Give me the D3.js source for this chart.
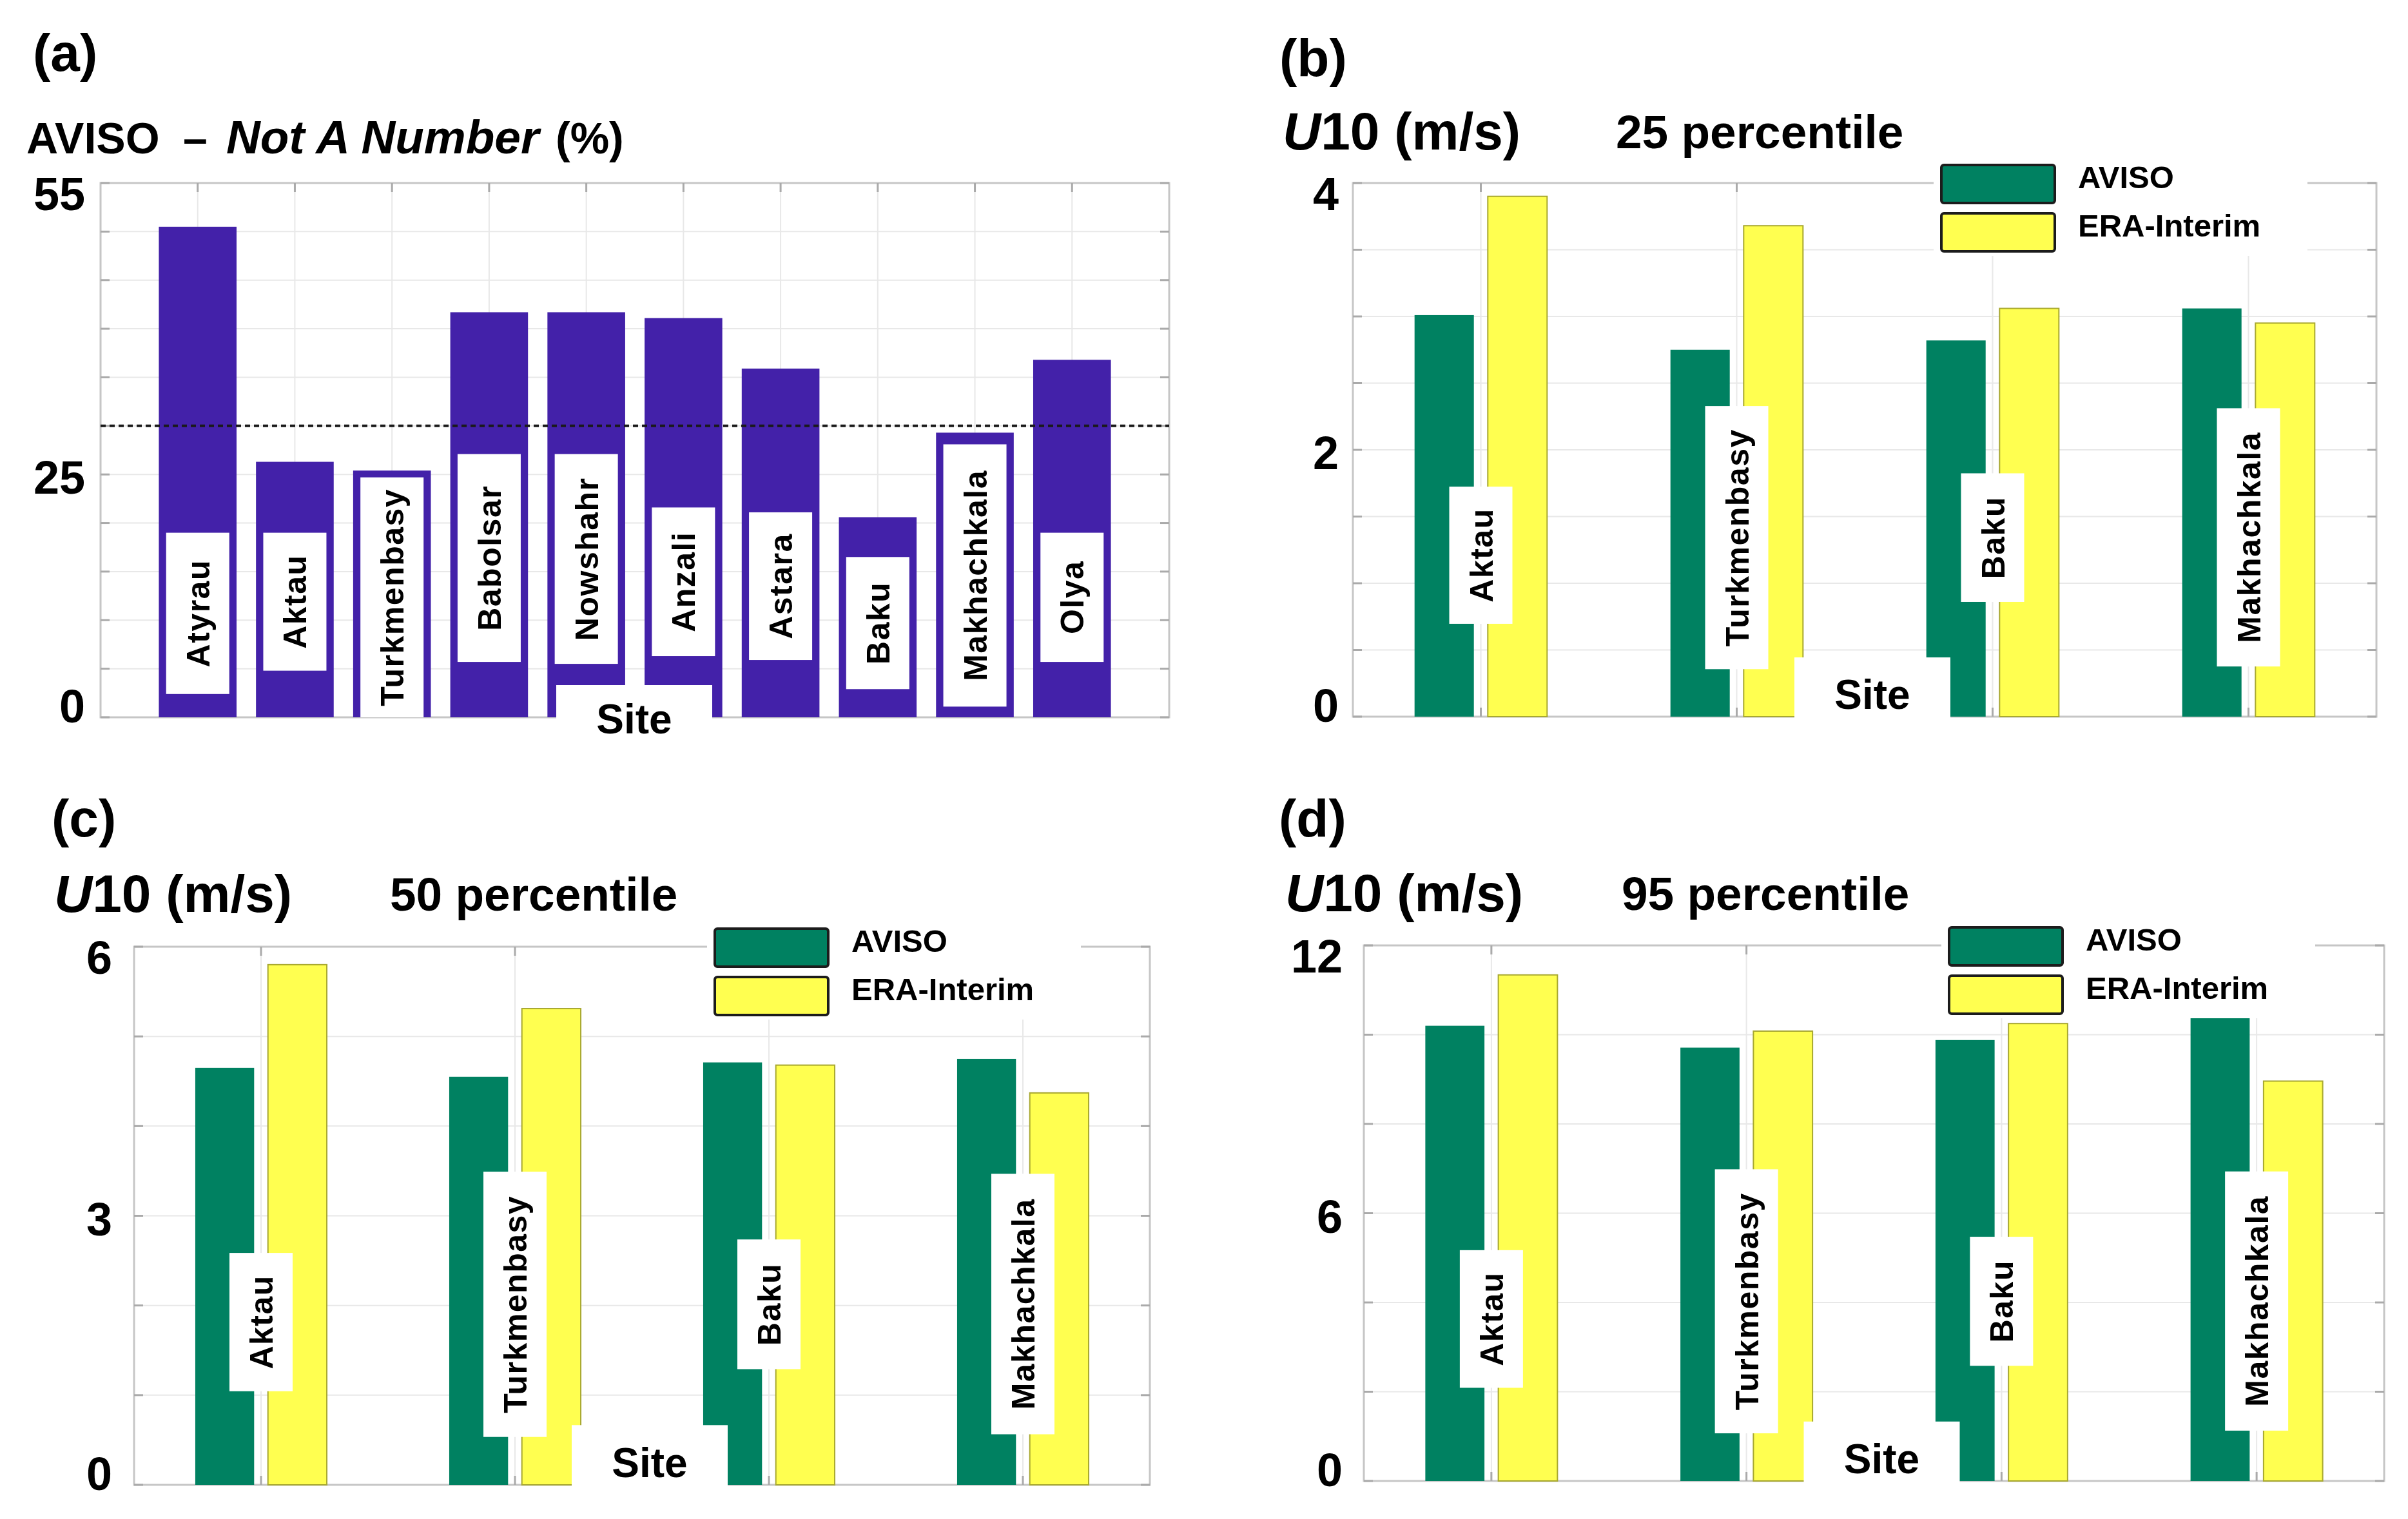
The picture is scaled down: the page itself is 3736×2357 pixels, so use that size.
<!DOCTYPE html>
<html lang="en">
<head>
<meta charset="UTF-8">
<title>AVISO NaN share and U10 percentiles</title>
<script src="https://d3js.org/d3.v7.min.js"></script>
<style>
  body { margin: 0; background: #fff; }
  svg { display: block; }
  text { font-family: "Liberation Sans", Arial, sans-serif; font-weight: bold; fill: #000; }
</style>
</head>
<body>
<svg id="fig" width="3736" height="2357"></svg>
<script>
// ---- data ----
const sitesA = ["Atyrau", "Aktau", "Turkmenbasy", "Babolsar", "Nowshahr", "Anzali", "Astara", "Baku", "Makhachkala", "Olya"];
const nanPercent = [50.5, 26.3, 25.4, 41.7, 41.7, 41.1, 35.9, 20.6, 29.3, 36.8];
const nanThreshold = 30;
const ticksA = [0, 25, 55];

const sitesU = ["Aktau", "Turkmenbasy", "Baku", "Makhachkala"];
const seriesNames = ["AVISO", "ERA-Interim"];
const p25Aviso = [3.01, 2.75, 2.82, 3.06];
const p25Era = [3.90, 3.68, 3.06, 2.95];
const p50Aviso = [4.65, 4.55, 4.71, 4.75];
const p50Era = [5.80, 5.31, 4.68, 4.37];
const p95Aviso = [10.20, 9.71, 9.88, 10.41];
const p95Era = [11.34, 10.08, 10.25, 8.96];
const ticks25 = [0, 2, 4];
const ticks50 = [0, 3, 6];
const ticks95 = [0, 6, 12];

// ---- annotation layout (where the white site-name boxes sit, in axis units / fractions) ----
const boxA = {
  Atyrau: [2.4, 19.0], Aktau: [4.8, 19.0], Turkmenbasy: [0, 24.7], Babolsar: [5.7, 27.1],
  Nowshahr: [5.5, 27.1], Anzali: [6.3, 21.6], Astara: [5.9, 21.1], Baku: [2.9, 16.5],
  Makhachkala: [1.1, 28.1], Olya: [5.7, 19.0]
};
const boxU = { Aktau: [0.174, 0.431], Turkmenbasy: [0.089, 0.582], Baku: [0.215, 0.456], Makhachkala: [0.094, 0.578] };

const colors = { purple: "#4321a9", green: "#008161", yellow: "#ffff50", yellowEdge: "#a8a830" };

const svg = d3.select("#fig");
svg.append("rect").attr("width", 3736).attr("height", 2357).attr("fill", "#fff");

function frame(g, p, y, gridVals, centers) {
  g.selectAll(null).data(gridVals.slice(1, -1)).join("line")
    .attr("x1", p.left).attr("x2", p.right).attr("y1", y).attr("y2", y)
    .attr("stroke", "#e8e8e8").attr("stroke-width", 2);
  g.selectAll(null).data(centers).join("line")
    .attr("x1", d => d).attr("x2", d => d).attr("y1", p.top).attr("y2", p.bottom)
    .attr("stroke", "#e8e8e8").attr("stroke-width", 2);
  g.append("rect").attr("x", p.left).attr("y", p.top)
    .attr("width", p.right - p.left).attr("height", p.bottom - p.top)
    .attr("fill", "none").attr("stroke", "#c6c6c6").attr("stroke-width", 3);
  const tk = "#aaaaaa";
  gridVals.forEach(v => {
    g.append("line").attr("x1", p.left).attr("x2", p.left + 14).attr("y1", y(v)).attr("y2", y(v)).attr("stroke", tk).attr("stroke-width", 3);
    g.append("line").attr("x1", p.right - 14).attr("x2", p.right).attr("y1", y(v)).attr("y2", y(v)).attr("stroke", tk).attr("stroke-width", 3);
  });
  centers.forEach(c => {
    g.append("line").attr("x1", c).attr("x2", c).attr("y1", p.top).attr("y2", p.top + 14).attr("stroke", tk).attr("stroke-width", 3);
    g.append("line").attr("x1", c).attr("x2", c).attr("y1", p.bottom - 14).attr("y2", p.bottom).attr("stroke", tk).attr("stroke-width", 3);
  });
}

function tickLabels(g, p, y, vals) {
  const ax = g.append("g").attr("transform", `translate(${p.left},0)`)
    .call(d3.axisLeft(y).tickValues(vals).tickFormat(d3.format("d")).tickSize(0).tickPadding(p.labelGap));
  ax.select(".domain").remove();
  ax.attr("font-family", null).attr("font-size", null);
  ax.selectAll("text").style("font-size", "72px")
    .attr("dy", (d, i, n) => i === 0 ? "0.11em" : i === n.length - 1 ? "0.58em" : "0.41em");
}

function siteLabel(g, cx, cy0, cy1, name) {
  g.append("rect").attr("x", cx - 49).attr("y", cy1).attr("width", 98).attr("height", cy0 - cy1).attr("fill", "#fff");
  g.append("text").attr("transform", `translate(${cx + 18},${(cy0 + cy1) / 2}) rotate(-90)`)
    .attr("text-anchor", "middle").style("font-size", "50px").style("letter-spacing", "1.5px").text(name);
}

function siteAxisTitle(g, cx, boxTop, boxBottom, baseline) {
  g.append("rect").attr("x", cx - 121).attr("y", boxTop).attr("width", 242).attr("height", boxBottom - boxTop).attr("fill", "#fff");
  g.append("text").attr("x", cx).attr("y", baseline).attr("text-anchor", "middle").style("font-size", "64px").text("Site");
}

// ---- panel (a) ----
(function () {
  const p = { left: 156, right: 1814, top: 284, bottom: 1113, labelGap: 24 };
  const g = svg.append("g");
  const y = d3.scaleLinear().domain([0, 55]).range([p.bottom, p.top]);
  const x = d3.scaleBand().domain(sitesA).range([p.left, p.right]).paddingInner(0.2).paddingOuter(0.6);
  const centers = sitesA.map(s => x(s) + x.bandwidth() / 2);
  frame(g, p, y, d3.range(0, 56, 5), centers);
  tickLabels(g, p, y, ticksA);

  g.selectAll(null).data(sitesA).join("rect")
    .attr("x", d => x(d)).attr("width", x.bandwidth())
    .attr("y", (d, i) => y(nanPercent[i])).attr("height", (d, i) => y(0) - y(nanPercent[i]))
    .attr("fill", colors.purple);

  g.append("line").attr("x1", p.left).attr("x2", p.right)
    .attr("y1", y(nanThreshold)).attr("y2", y(nanThreshold))
    .attr("stroke", "#1a1a1a").attr("stroke-width", 4).attr("stroke-dasharray", "8,6");

  sitesA.forEach((s, i) => siteLabel(g, centers[i], y(boxA[s][0]), y(boxA[s][1]), s));
  siteAxisTitle(g, (p.left + p.right) / 2 - 1, p.bottom - 50, p.bottom + 45, p.bottom + 25);

  svg.append("text").attr("x", 51).attr("y", 110).style("font-size", "82px").text("(a)");
  const t = svg.append("text").attr("x", 41).attr("y", 238).style("font-size", "68px");
  t.append("tspan").text("AVISO");
  t.append("tspan").attr("x", 284).text("\u2013");
  t.append("tspan").attr("x", 351).style("font-style", "italic").style("font-size", "73px").text("Not A Number");
  t.append("tspan").attr("x", 862).text("(%)");
})();

// ---- panels (b), (c), (d) ----
function percentilePanel(p, tag, tagPos, titlePos, pctText, yMax, gridStep, ticks, aviso, era) {
  const g = svg.append("g");
  const y = d3.scaleLinear().domain([0, yMax]).range([p.bottom, p.top]);
  const x = d3.scaleBand().domain(sitesU).range([p.left, p.right]);
  const bw = x.bandwidth();
  const x1 = d3.scaleBand().domain(seriesNames).range([-0.259 * bw, 0.259 * bw]).paddingInner(0.19);
  const centers = sitesU.map(s => x(s) + bw / 2);
  frame(g, p, y, d3.range(0, yMax + gridStep / 2, gridStep), centers);
  tickLabels(g, p, y, ticks);

  const rows = sitesU.map((s, i) => [
    { site: s, key: seriesNames[0], v: aviso[i] },
    { site: s, key: seriesNames[1], v: era[i] }
  ]).flat();
  g.selectAll(null).data(rows).join("rect")
    .attr("x", d => x(d.site) + bw / 2 + x1(d.key)).attr("width", x1.bandwidth())
    .attr("y", d => y(d.v)).attr("height", d => y(0) - y(d.v))
    .attr("fill", d => d.key === "AVISO" ? colors.green : colors.yellow)
    .attr("stroke", d => d.key === "AVISO" ? "none" : colors.yellowEdge)
    .attr("stroke-width", 2);

  sitesU.forEach((s, i) => siteLabel(g, centers[i], y(boxU[s][0] * yMax), y(boxU[s][1] * yMax), s));
  const mid = (p.left + p.right) / 2 + 12;
  siteAxisTitle(g, mid, y(0.111 * yMax), p.bottom + 40, p.bottom - 12);

  // legend
  const lx = p.right - 675, ly = p.top - 28;
  g.append("rect").attr("x", lx - 12).attr("y", p.top - 45).attr("width", 580).attr("height", 158).attr("fill", "#fff");
  seriesNames.forEach((name, i) => {
    g.append("rect").attr("x", lx).attr("y", ly + i * 75).attr("width", 176).attr("height", 59).attr("rx", 4)
      .attr("fill", i === 0 ? colors.green : colors.yellow).attr("stroke", "#1c1c1c").attr("stroke-width", 4);
    g.append("text").attr("x", lx + 212).attr("y", ly + i * 75 + 36).style("font-size", "49px").text(name);
  });

  svg.append("text").attr("x", tagPos[0]).attr("y", tagPos[1]).style("font-size", "82px").text(tag);
  const u = svg.append("text").attr("x", titlePos[0]).attr("y", titlePos[1]).style("font-size", "82px");
  u.append("tspan").style("font-style", "italic").text("U");
  u.append("tspan").text("10 (m/s)");
  svg.append("text").attr("x", titlePos[2]).attr("y", titlePos[1] - 2).style("font-size", "73px").text(pctText);
}

percentilePanel({ left: 2099, right: 3687, top: 284, bottom: 1112, labelGap: 22 },
  "(b)", [1985, 118], [1990, 232, 2507], "25 percentile", 4, 0.5, ticks25, p25Aviso, p25Era);
percentilePanel({ left: 208, right: 1784, top: 1469, bottom: 2304, labelGap: 34 },
  "(c)", [80, 1298], [84, 1415, 605], "50 percentile", 6, 1, ticks50, p50Aviso, p50Era);
percentilePanel({ left: 2116, right: 3699, top: 1467, bottom: 2298, labelGap: 33 },
  "(d)", [1984, 1298], [1994, 1414, 2516], "95 percentile", 12, 2, ticks95, p95Aviso, p95Era);
</script>
</body>
</html>
